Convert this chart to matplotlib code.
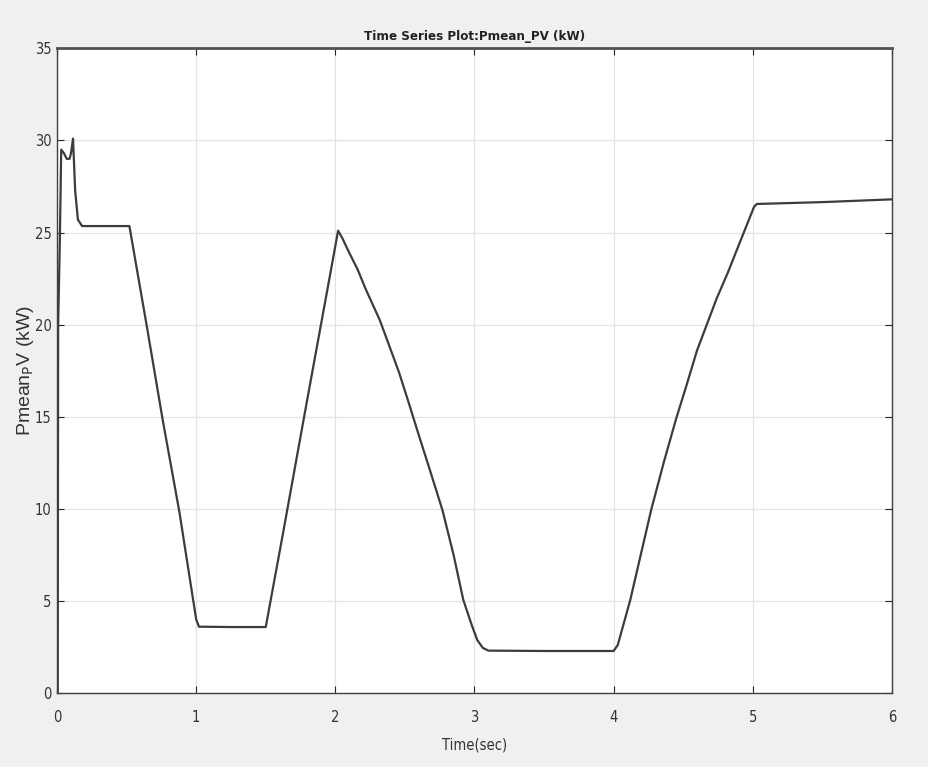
import numpy as np
import matplotlib.pyplot as plt

# Pmean_PV time series
t = [0.0, 0.005, 0.008, 0.02, 0.03, 0.05, 0.07, 0.09, 0.10, 0.115, 0.13,
     0.15, 0.18, 0.30, 0.45, 0.52, 0.65, 0.76, 0.88, 1.00, 1.02,
     1.25, 1.50, 1.62, 1.80, 1.96, 2.02, 2.05, 2.10, 2.16, 2.22,
     2.32, 2.40, 2.46, 2.53, 2.60, 2.68, 2.77, 2.85, 2.92, 2.98,
     3.02, 3.06, 3.10, 3.50, 4.00, 4.03, 4.12, 4.27, 4.36, 4.45,
     4.52, 4.60, 4.66, 4.74, 4.82, 4.92, 5.01, 5.03, 5.50, 6.00]
p = [0.0, 0.0, 20.0, 24.5, 29.5, 29.3, 29.0, 29.0, 29.3, 30.1, 27.3,
     25.7, 25.35, 25.35, 25.35, 25.35, 19.7, 14.8, 9.8, 4.0, 3.6,
     3.58, 3.58, 8.5, 16.0, 22.6, 25.1, 24.7, 23.9, 23.0, 21.9,
     20.24, 18.6, 17.36, 15.7, 14.0, 12.1, 9.93, 7.5, 5.05, 3.7,
     2.88, 2.45, 2.3, 2.28, 2.28, 2.6, 5.05, 9.93, 12.5, 14.9,
     16.6, 18.6, 19.8, 21.4, 22.8, 24.7, 26.4, 26.55, 26.65, 26.8]

xticks = [0, 1, 2, 3, 4, 5, 6]
yticks = [0, 5, 10, 15, 20, 25, 30, 35]

narrow = dict(family='DejaVu Sans', stretch='condensed')

fig = plt.figure(figsize=(9.29, 7.67), dpi=100, facecolor='#f0f0f0')
ax = fig.add_axes([0.0614, 0.0965, 0.8986, 0.8405])
ax.set_facecolor('white')

ax.plot(t, p, color='#3c3c3c', linewidth=1.6)

ax.set_xlim(0, 6)
ax.set_ylim(0, 35)
ax.set_xticks(xticks)
ax.set_yticks(yticks)
ax.grid(True, color='#e3e3e3', linewidth=0.9)
ax.set_axisbelow(True)
ax.tick_params(direction='in', top=True, right=True, length=5,
               color='#262626', labelsize=10.5, labelcolor='#333333')
ax.tick_params(axis='x', pad=12)
ax.tick_params(axis='y', pad=4)
for lab in ax.get_xticklabels() + ax.get_yticklabels():
    lab.set_family('DejaVu Sans')
    lab.set_stretch('condensed')
for side in ['left', 'right', 'bottom']:
    ax.spines[side].set_color('#404040')
    ax.spines[side].set_linewidth(1.0)
ax.spines['top'].set_color('#505050')
ax.spines['top'].set_linewidth(2.0)

ax.set_title('Time Series Plot:Pmean_PV (kW)', fontweight='bold',
             fontsize=9.5, color='#222222', pad=6, **narrow)
ax.set_xlabel('Time(sec)', fontsize=10.5, color='#333333', labelpad=9,
              **narrow)
ax.set_ylabel(r'Pmean$_\mathrm{P}$V (kW)', family='Liberation Sans',
              fontsize=14, color='#333333', labelpad=-1)

fig.savefig('out.png', dpi=100, facecolor=fig.get_facecolor())
